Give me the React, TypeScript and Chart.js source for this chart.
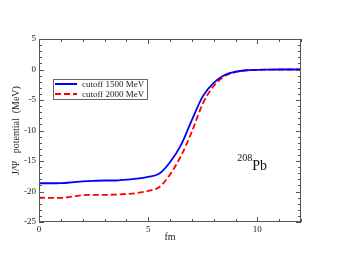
import { useEffect, useRef } from 'react';
import { Chart, registerables } from 'chart.js';

Chart.register(...registerables);

const radiusFm = [0, 0.5, 1, 1.5, 2, 2.5, 3, 3.5, 4, 4.5, 5, 5.5, 6, 6.5, 7, 7.5, 8, 8.5, 9, 9.5, 10, 10.5, 11, 11.5, 12];
const cutoff1500 = [-18.65, -18.65, -18.62, -18.5, -18.35, -18.25, -18.2, -18.2, -18.05, -17.9, -17.6, -17.1, -15.2, -12.4, -8.3, -4.4, -2.2, -0.9, -0.35, -0.12, -0.05, -0.02, 0, 0, 0];
const cutoff2000 = [-21.0, -21.05, -21.05, -20.85, -20.6, -20.55, -20.55, -20.5, -20.4, -20.25, -19.9, -19.3, -17.2, -14.2, -10.2, -5.6, -2.7, -1.1, -0.45, -0.15, -0.07, -0.03, -0.01, 0, 0];
const seriesLabels = ['cutoff 1500 MeV', 'cutoff 2000 MeV'];
const xTickValues = [0, 5, 10];
const yTickValues = [-25, -20, -15, -10, -5, 0, 5];
const nucleusMass = '208';
const nucleusSymbol = 'Pb';
const nucleusAnchor = { x: 9.77, y: -16.5 };

const SERIF = '"Liberation Serif", "DejaVu Serif", serif';

const framePlugin = {
  id: 'framePlugin',
  afterDraw(chart: any) {
    const { ctx, chartArea: a, scales } = chart;
    const xs = scales.x;
    const ys = scales.y;
    ctx.save();
    ctx.strokeStyle = '#555555';
    ctx.lineWidth = 1;
    ctx.strokeRect(a.left + 0.5, a.top + 0.5, a.right - a.left - 1, a.bottom - a.top - 1);
    ctx.beginPath();
    for (let v = xs.min; v <= xs.max + 1e-9; v += 1) {
      const len = Math.abs(v % 5) < 1e-9 ? 5 : 3;
      const px = Math.round(xs.getPixelForValue(v)) + 0.5;
      ctx.moveTo(px, a.bottom);
      ctx.lineTo(px, a.bottom - len);
      ctx.moveTo(px, a.top);
      ctx.lineTo(px, a.top + len);
    }
    for (let v = ys.min; v <= ys.max + 1e-9; v += 1) {
      const len = Math.abs(v % 5) < 1e-9 ? 5 : 3;
      const py = Math.round(ys.getPixelForValue(v)) + 0.5;
      ctx.moveTo(a.left, py);
      ctx.lineTo(a.left + len, py);
      ctx.moveTo(a.right, py);
      ctx.lineTo(a.right - len, py);
    }
    ctx.stroke();

    // legend
    const lx = a.left + 14;
    const ly = a.top + 40;
    const lw = 94;
    const lh = 20;
    ctx.fillStyle = '#ffffff';
    ctx.fillRect(lx, ly, lw, lh);
    ctx.strokeStyle = '#666666';
    ctx.strokeRect(lx + 0.5, ly + 0.5, lw, lh);
    chart.data.datasets.forEach((ds: any, i: number) => {
      const y = ly + 5 + i * 10;
      ctx.strokeStyle = ds.borderColor;
      ctx.lineWidth = 2;
      ctx.setLineDash(ds.borderDash || []);
      ctx.beginPath();
      ctx.moveTo(lx + 2, y);
      ctx.lineTo(lx + 24, y);
      ctx.stroke();
      ctx.setLineDash([]);
      ctx.fillStyle = '#222222';
      ctx.font = '9px ' + SERIF;
      ctx.textBaseline = 'middle';
      ctx.textAlign = 'left';
      ctx.fillText(ds.label, lx + 29, y + 0.5);
    });

    // nucleus label
    const nx = xs.getPixelForValue(nucleusAnchor.x);
    const ny = ys.getPixelForValue(nucleusAnchor.y);
    ctx.fillStyle = '#111111';
    ctx.textBaseline = 'alphabetic';
    ctx.textAlign = 'left';
    ctx.font = '14px ' + SERIF;
    ctx.fillText(nucleusSymbol, nx, ny);
    ctx.font = '10px ' + SERIF;
    ctx.textAlign = 'right';
    ctx.fillText(nucleusMass, nx, ny - 9);
    ctx.restore();
  },
};

export default function App() {
  const ref = useRef<HTMLCanvasElement | null>(null);
  useEffect(() => {
    if (!ref.current) return;
    const chart = new Chart(ref.current, {
      type: 'line',
      data: {
        datasets: [
          {
            label: seriesLabels[0],
            data: radiusFm.map((x, i) => ({ x, y: cutoff1500[i] })),
            borderColor: '#0000ff',
            borderWidth: 1.8,
            pointRadius: 0,
            cubicInterpolationMode: 'monotone',
            fill: false,
          },
          {
            label: seriesLabels[1],
            data: radiusFm.map((x, i) => ({ x, y: cutoff2000[i] })),
            borderColor: '#ff0000',
            borderWidth: 1.8,
            borderDash: [6, 3],
            pointRadius: 0,
            cubicInterpolationMode: 'monotone',
            fill: false,
          },
        ],
      },
      options: {
        animation: false,
        responsive: false,
        layout: { padding: { top: 39, right: 38, left: 0, bottom: 0 } },
        plugins: { legend: { display: false }, tooltip: { enabled: false } },
        scales: {
          x: {
            type: 'linear',
            min: 0,
            max: 12,
            grid: { display: false, drawTicks: false },
            border: { display: false },
            afterBuildTicks: (s: any) => {
              s.ticks = xTickValues.map((v) => ({ value: v }));
            },
            afterFit: (s: any) => {
              s.height = 40;
            },
            ticks: { color: '#222', font: { family: SERIF, size: 9 }, padding: 2, maxRotation: 0 },
            title: { display: true, text: 'fm', color: '#222', font: { family: SERIF, size: 10 }, padding: { bottom: 18.5, top: 0 } },
          },
          y: {
            type: 'linear',
            min: -25,
            max: 5,
            grid: { display: false, drawTicks: false },
            border: { display: false },
            afterBuildTicks: (s: any) => {
              s.ticks = yTickValues.map((v) => ({ value: v }));
            },
            afterFit: (s: any) => {
              s.width = 39;
            },
            ticks: { color: '#222', font: { family: SERIF, size: 9 }, padding: 3 },
            title: { display: true, text: 'J/Ψ   potential  (MeV)', color: '#222', font: { family: SERIF, size: 10 }, padding: { top: 10.5, bottom: 0 } },
          },
        },
      },
      plugins: [framePlugin],
    } as any);
    return () => chart.destroy();
  }, []);
  return (
    <div style={{ position: 'fixed', left: 0, top: 0, width: 339, height: 262, background: '#fff' }}>
      <canvas ref={ref} width={339} height={262} />
    </div>
  );
}
